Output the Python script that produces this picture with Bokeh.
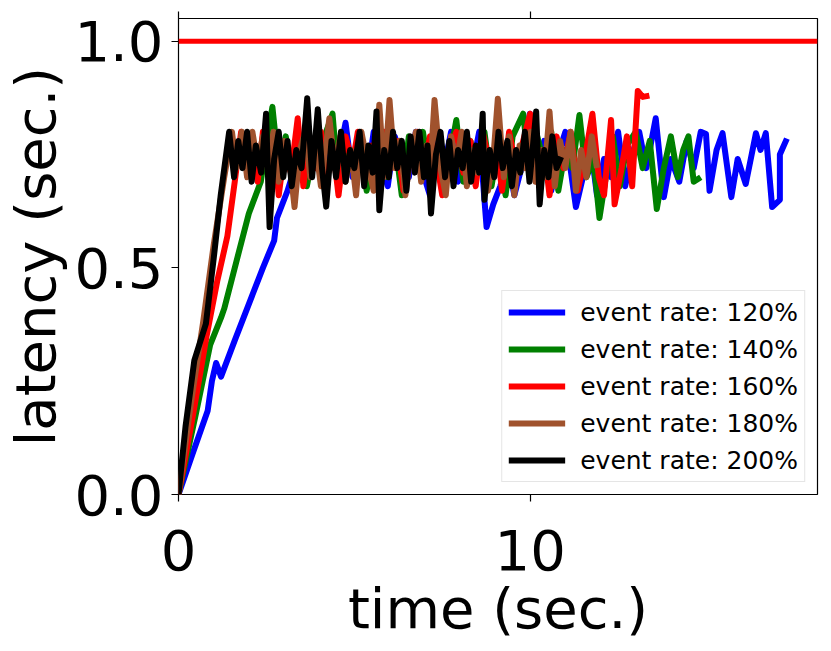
from bokeh.plotting import figure
from bokeh.models import Range1d, FixedTicker, LinearAxis, Legend, LegendItem, Span
from bokeh.embed import file_html
from bokeh.resources import INLINE

# ---- data: (time sec., latency sec.) ----
rate_120 = [(0, 0), (0.4, 0.09), (0.83, 0.185), (0.95, 0.25), (1.07, 0.29), (1.21, 0.26), (1.6, 0.34),
            (2.0, 0.42), (2.4, 0.50), (2.72, 0.56), (2.8, 0.61), (3.1, 0.67), (3.3, 0.72), (3.5, 0.78),
            (3.7, 0.70), (3.9, 0.76), (4.1, 0.68), (4.3, 0.80), (4.5, 0.72), (4.75, 0.82), (4.95, 0.70),
            (5.15, 0.78), (5.35, 0.69), (5.55, 0.80), (5.75, 0.73), (5.95, 0.68), (6.15, 0.79), (6.35, 0.74),
            (6.55, 0.70), (6.75, 0.80), (6.95, 0.71), (7.15, 0.66), (7.35, 0.78), (7.55, 0.72), (7.75, 0.80),
            (7.95, 0.69), (8.15, 0.76), (8.35, 0.72), (8.55, 0.80), (8.76, 0.59), (8.95, 0.64), (9.15, 0.68),
            (9.35, 0.74), (9.55, 0.66), (9.75, 0.72), (9.99, 0.84), (10.2, 0.70), (10.4, 0.78), (10.6, 0.67),
            (10.8, 0.75), (11.0, 0.80), (11.3, 0.634), (11.5, 0.70), (11.7, 0.78), (11.9, 0.66), (12.1, 0.74),
            (12.3, 0.70), (12.5, 0.80), (12.7, 0.68), (12.9, 0.75), (13.1, 0.80), (13.3, 0.72), (13.57, 0.83),
            (13.8, 0.656), (14.0, 0.74), (14.24, 0.69), (14.45, 0.78), (14.65, 0.72), (14.85, 0.80),
            (15.0, 0.795), (15.1, 0.67), (15.3, 0.76), (15.47, 0.797), (15.72, 0.656), (15.9, 0.74),
            (16.13, 0.685), (16.42, 0.797), (16.55, 0.76), (16.7, 0.797), (16.88, 0.634), (17.1, 0.65),
            (17.1, 0.75), (17.3, 0.785)]

rate_140 = [(0, 0), (0.5, 0.18), (0.9, 0.33), (1.21, 0.39), (1.3, 0.41), (1.7, 0.53), (2.0, 0.62),
            (2.34, 0.69), (2.55, 0.80), (2.67, 0.855), (2.85, 0.72), (3.05, 0.79), (3.25, 0.70), (3.45, 0.78),
            (3.65, 0.68), (3.85, 0.76), (4.05, 0.71), (4.2, 0.80), (4.38, 0.84), (4.55, 0.68), (4.75, 0.77),
            (4.95, 0.72), (5.15, 0.79), (5.35, 0.67), (5.55, 0.75), (5.75, 0.80), (5.95, 0.70), (6.15, 0.78),
            (6.35, 0.66), (6.55, 0.79), (6.75, 0.72), (6.95, 0.80), (7.15, 0.70), (7.35, 0.76), (7.55, 0.67),
            (7.7, 0.74), (7.9, 0.826), (8.1, 0.69), (8.3, 0.78), (8.5, 0.72), (8.7, 0.80), (8.9, 0.68),
            (9.1, 0.77), (9.3, 0.66), (9.5, 0.79), (9.8, 0.84), (10.0, 0.70), (10.2, 0.79), (10.4, 0.73),
            (10.6, 0.80), (10.8, 0.67), (11.0, 0.76), (11.2, 0.72), (11.4, 0.837), (11.6, 0.70), (11.8, 0.74),
            (11.97, 0.61), (12.15, 0.70), (12.35, 0.79), (12.55, 0.68), (12.75, 0.77), (13.0, 0.80),
            (13.2, 0.72), (13.4, 0.78), (13.6, 0.63), (13.8, 0.72), (14.0, 0.79), (14.2, 0.70), (14.35, 0.76),
            (14.5, 0.79), (14.65, 0.69), (14.85, 0.70)]

rate_160 = [(0, 0), (0.4, 0.17), (0.8, 0.35), (1.1, 0.47), (1.39, 0.57), (1.6, 0.69), (1.78, 0.80),
            (1.95, 0.72), (2.1, 0.79), (2.25, 0.69), (2.4, 0.80), (2.55, 0.72), (2.7, 0.78), (2.85, 0.66),
            (3.0, 0.75), (3.2, 0.71), (3.39, 0.83), (3.55, 0.68), (3.7, 0.77), (3.9, 0.72), (4.05, 0.80),
            (4.2, 0.69), (4.4, 0.76), (4.55, 0.66), (4.75, 0.79), (4.95, 0.73), (5.1, 0.80), (5.3, 0.70),
            (5.5, 0.77), (5.7, 0.68), (5.85, 0.80), (6.05, 0.72), (6.2, 0.78), (6.4, 0.67), (6.6, 0.75),
            (6.8, 0.80), (6.95, 0.70), (7.15, 0.79), (7.35, 0.73), (7.5, 0.66), (7.7, 0.76), (7.9, 0.80),
            (8.1, 0.71), (8.3, 0.78), (8.45, 0.68), (8.65, 0.80), (8.85, 0.73), (9.05, 0.77), (9.2, 0.67),
            (9.4, 0.80), (9.6, 0.72), (9.8, 0.78), (10.0, 0.84), (10.2, 0.69), (10.4, 0.76), (10.55, 0.66),
            (10.75, 0.79), (10.95, 0.72), (11.15, 0.80), (11.35, 0.67), (11.55, 0.74), (11.77, 0.84),
            (11.95, 0.70), (12.1, 0.66), (12.3, 0.826), (12.4, 0.64), (12.6, 0.72), (12.75, 0.79),
            (12.9, 0.68), (13.06, 0.89), (13.2, 0.877), (13.39, 0.88)]

rate_180 = [(0, 0), (0.35, 0.20), (0.7, 0.38), (1.0, 0.55), (1.3, 0.70), (1.52, 0.80), (1.65, 0.72),
            (1.8, 0.80), (1.95, 0.70), (2.1, 0.80), (2.25, 0.73), (2.4, 0.79), (2.55, 0.71), (2.7, 0.80),
            (2.85, 0.69), (3.0, 0.78), (3.15, 0.74), (3.3, 0.634), (3.45, 0.76), (3.6, 0.80), (3.75, 0.70),
            (3.9, 0.77), (4.05, 0.68), (4.29, 0.83), (4.45, 0.72), (4.6, 0.79), (4.75, 0.69), (4.9, 0.76),
            (5.05, 0.66), (5.2, 0.80), (5.4, 0.72), (5.55, 0.67), (5.71, 0.86), (5.85, 0.70), (6.0, 0.87),
            (6.15, 0.72), (6.3, 0.78), (6.45, 0.66), (6.6, 0.75), (6.75, 0.80), (6.9, 0.69), (7.05, 0.77),
            (7.15, 0.70), (7.28, 0.87), (7.45, 0.72), (7.6, 0.66), (7.75, 0.79), (7.9, 0.73), (8.05, 0.80),
            (8.2, 0.68), (8.35, 0.76), (8.5, 0.71), (8.65, 0.80), (8.8, 0.67), (8.95, 0.74), (9.08, 0.873),
            (9.25, 0.70), (9.4, 0.79), (9.55, 0.66), (9.7, 0.77), (9.85, 0.72), (10.0, 0.80), (10.15, 0.69),
            (10.3, 0.76), (10.4, 0.70), (10.55, 0.845), (10.7, 0.68), (10.85, 0.78), (11.0, 0.72),
            (11.15, 0.80), (11.3, 0.67), (11.45, 0.76), (11.6, 0.70), (11.75, 0.79), (11.9, 0.72)]

rate_200 = [(0, 0), (0.2, 0.15), (0.45, 0.296), (0.78, 0.377), (1.0, 0.52), (1.2, 0.66), (1.44, 0.80),
            (1.58, 0.70), (1.7, 0.78), (1.82, 0.72), (1.95, 0.80), (2.08, 0.69), (2.2, 0.77), (2.35, 0.71),
            (2.49, 0.84), (2.59, 0.59), (2.72, 0.74), (2.85, 0.80), (2.98, 0.70), (3.1, 0.78), (3.22, 0.68),
            (3.35, 0.76), (3.5, 0.72), (3.66, 0.874), (3.8, 0.70), (3.96, 0.85), (4.08, 0.72), (4.2, 0.635),
            (4.35, 0.78), (4.48, 0.70), (4.62, 0.80), (4.75, 0.69), (4.88, 0.76), (5.0, 0.72), (5.15, 0.80),
            (5.28, 0.68), (5.4, 0.77), (5.52, 0.71), (5.63, 0.845), (5.71, 0.627), (5.85, 0.76), (5.98, 0.70),
            (6.1, 0.80), (6.22, 0.72), (6.35, 0.78), (6.48, 0.67), (6.6, 0.79), (6.72, 0.71), (6.85, 0.80),
            (6.98, 0.70), (7.08, 0.77), (7.18, 0.62), (7.32, 0.75), (7.45, 0.80), (7.58, 0.70), (7.7, 0.78),
            (7.82, 0.68), (7.95, 0.76), (8.08, 0.72), (8.2, 0.80), (8.32, 0.69), (8.45, 0.77), (8.55, 0.71),
            (8.65, 0.84), (8.7, 0.65), (8.85, 0.76), (8.98, 0.70), (9.1, 0.80), (9.22, 0.72), (9.35, 0.78),
            (9.48, 0.68), (9.6, 0.76), (9.72, 0.71), (9.85, 0.80), (9.98, 0.69), (10.08, 0.77), (10.17, 0.845),
            (10.27, 0.64), (10.4, 0.76), (10.52, 0.70), (10.63, 0.79), (10.75, 0.72), (10.88, 0.745)]

labels = ["event rate: 120%", "event rate: 140%", "event rate: 160%", "event rate: 180%", "event rate: 200%"]
colors = ["#0000ff", "#008000", "#ff0000", "#a0522d", "#000000"]
series = [rate_120, rate_140, rate_160, rate_180, rate_200]
threshold = 1.0
x_ticks = [0, 10]
y_ticks = [0, 0.5, 1.0]
y_tick_labels = {0: "0.0", 0.5: "0.5", 1: "1.0"}

FONT = "DejaVu Sans"

p = figure(frame_width=639, frame_height=476, output_backend="svg", toolbar_location=None,
           x_range=Range1d(0, 18.17), y_range=Range1d(0, 1.05),
           min_border_left=171, min_border_right=5, min_border_top=18, min_border_bottom=140,
           background_fill_color="white", border_fill_color="white")
p.grid.visible = False
p.outline_line_color = "black"
p.outline_line_width = 1.2

xa = p.below[0]
ya = p.left[0]
xa.ticker = FixedTicker(ticks=x_ticks)
ya.ticker = FixedTicker(ticks=y_ticks)
ya.major_label_overrides = y_tick_labels
for ax in (xa, ya):
    ax.major_label_text_font = FONT
    ax.major_label_text_font_size = "56px"
    ax.major_label_text_color = "black"
    ax.axis_label_text_font = FONT
    ax.axis_label_text_font_size = "56px"
    ax.axis_label_text_font_style = "normal"
    ax.axis_label_text_color = "black"
    ax.major_tick_out = 7
    ax.major_tick_in = 0
    ax.major_tick_line_width = 1.2
    ax.minor_tick_line_color = None
    ax.axis_line_color = None
xa.axis_label = "time (sec.)"
ya.axis_label = "latency (sec.)"
xa.major_label_standoff = 28
xa.axis_label_standoff = 3
ya.major_label_standoff = 8
ya.axis_label_standoff = 3

# top spine ticks (no labels drawn)
top = LinearAxis(ticker=FixedTicker(ticks=x_ticks), major_label_text_font_size="1px",
                 major_label_text_color=None, major_label_standoff=0, axis_line_color=None,
                 major_tick_out=7, major_tick_in=0, major_tick_line_width=1.2,
                 minor_tick_line_color=None)
p.add_layout(top, "above")

p.add_layout(Span(location=threshold, dimension="width", line_color="#ff0000", line_width=5))

items = []
for pts, c, lab in zip(series, colors, labels):
    xs = [a for a, b in pts]
    ys = [b for a, b in pts]
    r = p.line(xs, ys, line_color=c, line_width=6, line_join="round")
    items.append(LegendItem(label=lab, renderers=[r]))

legend = Legend(items=items, location="bottom_right")
legend.label_text_font = FONT
legend.label_text_font_size = "25px"
legend.label_text_color = "black"
legend.glyph_width = 57
legend.glyph_height = 30
legend.label_height = 30
legend.label_standoff = 15
legend.spacing = 7
legend.padding = 6
legend.margin = 12
legend.border_line_color = "#cccccc"
legend.border_line_width = 1.5
legend.background_fill_alpha = 0.8
p.add_layout(legend)

open("out.html", "w").write(file_html(p, INLINE))
